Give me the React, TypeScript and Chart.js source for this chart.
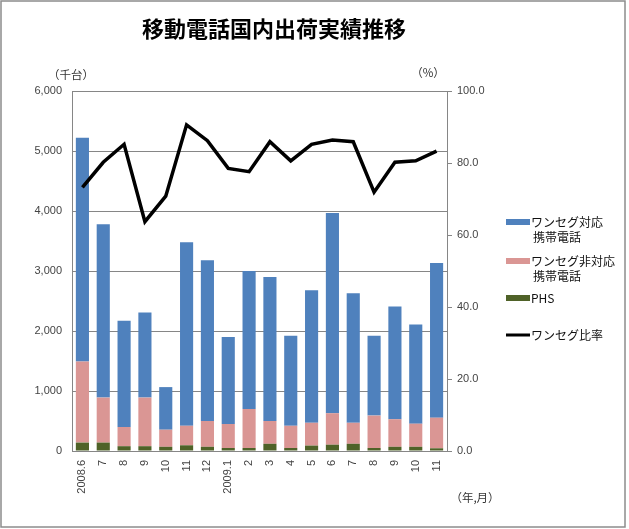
import React, { useEffect, useRef } from "react";
import { Chart, registerables } from "chart.js";

Chart.register(...registerables);

const title = "移動電話国内出荷実績推移";
const categories = ["2008.6", "7", "8", "9", "10", "11", "12", "2009.1", "2", "3", "4", "5", "6", "7", "8", "9", "10", "11"];
const phs = [140, 140, 80, 80, 70, 95, 70, 50, 50, 120, 50, 90, 105, 120, 50, 70, 70, 45];
const nonOneSeg = [1350, 750, 320, 810, 285, 325, 430, 400, 650, 380, 370, 380, 525, 350, 540, 460, 385, 510];
const oneSeg = [3730, 2890, 1770, 1420, 710, 3060, 2680, 1450, 2300, 2400, 1500, 2210, 3335, 2160, 1330, 1880, 1655, 2580];
const ratio = [73.2, 80.2, 85.2, 63.7, 70.8, 90.6, 86.2, 78.5, 77.6, 85.9, 80.6, 85.2, 86.4, 85.9, 71.9, 80.2, 80.6, 83.3];
const leftTicks = { min: 0, max: 6000, step: 1000 };
const rightTicks = { min: 0, max: 100, step: 20 };
const leftUnit = "（千台）";
const rightUnit = "（%）";
const xUnit = "（年,月）";

const BLUE = "#4F81BD";
const PINK = "#DA9694";
const GREEN = "#4F6228";
const GRID = "#868686";
const TXT = "#444444";
const FONT = "'Liberation Sans', Arial, 'Noto Sans CJK JP', sans-serif";
const CJK = "'Noto Sans CJK JP', 'Liberation Sans', sans-serif";

const decor = {
  id: "decor",
  beforeDraw(chart: any) {
    const ctx = chart.ctx;
    ctx.save();
    ctx.fillStyle = "#ffffff";
    ctx.fillRect(0, 0, chart.width, chart.height);
    ctx.restore();
  },
  afterDraw(chart: any) {
    const ctx = chart.ctx;
    const area = chart.chartArea;
    ctx.save();
    // border
    ctx.strokeStyle = "#8c8c8c";
    ctx.lineWidth = 1.5;
    ctx.strokeRect(1, 1, 624, 526);
    // title
    ctx.fillStyle = "#000";
    ctx.font = "bold 22px " + CJK;
    ctx.textAlign = "center";
    ctx.textBaseline = "middle";
    ctx.fillText(title, 274, 29);
    // units
    ctx.font = "11.5px " + CJK;
    ctx.fillStyle = "#333";
    ctx.fillText(leftUnit, 71, 75);
    ctx.fillText(rightUnit, 428, 73);
    ctx.fillText(xUnit, 475, 498);
    // legend
    ctx.textAlign = "left";
    ctx.font = "12px " + CJK;
    const items = [
      { color: BLUE, lines: ["ワンセグ対応", "携帯電話"], y: 222, type: "box" },
      { color: PINK, lines: ["ワンセグ非対応", "携帯電話"], y: 261, type: "box" },
      { color: GREEN, lines: ["PHS"], y: 298, type: "box" },
      { color: "#000", lines: ["ワンセグ比率"], y: 335, type: "line" },
    ];
    for (const it of items) {
      if (it.type === "box") {
        ctx.fillStyle = it.color;
        ctx.fillRect(506, it.y - 3, 24, 6);
      } else {
        ctx.strokeStyle = it.color;
        ctx.lineWidth = 3;
        ctx.beginPath();
        ctx.moveTo(506, it.y);
        ctx.lineTo(530, it.y);
        ctx.stroke();
      }
      ctx.fillStyle = "#111";
      it.lines.forEach((l, i) => {
        ctx.fillText(l, i === 0 ? 531 : 533, it.y + i * 15.5);
      });
    }
    ctx.restore();
  },
};

export default function App() {
  const ref = useRef<HTMLCanvasElement>(null);
  useEffect(() => {
    const chart = new Chart(ref.current!, {
      type: "bar",
      data: {
        labels: categories,
        datasets: [
          {
            type: "line",
            label: "ワンセグ比率",
            data: ratio,
            yAxisID: "y1",
            borderColor: "#000",
            borderWidth: 3.5,
            pointRadius: 0,
            tension: 0,
            order: 0,
          } as any,
          { label: "PHS", data: phs, backgroundColor: GREEN, yAxisID: "y", stack: "s", order: 1 },
          { label: "ワンセグ非対応携帯電話", data: nonOneSeg, backgroundColor: PINK, yAxisID: "y", stack: "s", order: 1 },
          { label: "ワンセグ対応携帯電話", data: oneSeg, backgroundColor: BLUE, yAxisID: "y", stack: "s", order: 1 },
        ],
      },
      options: {
        responsive: false,
        animation: false,
        devicePixelRatio: 1,
        layout: { padding: { top: 91, left: 0, right: 0, bottom: 0 } },
        plugins: { legend: { display: false }, tooltip: { enabled: false }, title: { display: false } },
        datasets: { bar: { barPercentage: 0.63, categoryPercentage: 1 } },
        scales: {
          x: {
            stacked: true,
            grid: { display: false, drawTicks: false },
            border: { display: true, color: GRID, width: 1 },
            ticks: { minRotation: 90, maxRotation: 90, padding: 9, color: TXT, font: { family: FONT, size: 11 }, autoSkip: false },
            afterFit: (s: any) => { s.height = 78; },
          },
          y: {
            stacked: true,
            position: "left",
            min: leftTicks.min,
            max: leftTicks.max,
            grid: { color: GRID, drawTicks: false, lineWidth: 1 },
            border: { display: true, color: GRID },
            ticks: {
              stepSize: leftTicks.step,
              padding: 10,
              color: TXT,
              font: { family: FONT, size: 11 },
              callback: (v: any) => Number(v).toLocaleString("en-US"),
            },
            afterFit: (s: any) => { s.width = 72; },
          },
          y1: {
            position: "right",
            min: rightTicks.min,
            max: rightTicks.max,
            grid: { drawOnChartArea: false, color: GRID, tickLength: 5 },
            border: { display: true, color: GRID },
            ticks: {
              stepSize: rightTicks.step,
              padding: 5,
              color: TXT,
              font: { family: FONT, size: 11 },
              callback: (v: any) => Number(v).toFixed(1),
            },
            afterFit: (s: any) => { s.width = 182; },
          },
        },
      },
      plugins: [decor],
    });
    return () => chart.destroy();
  }, []);
  return (
    <div style={{ position: "fixed", left: 0, top: 0, width: 629, height: 529 }}>
      <canvas ref={ref} width={629} height={529} style={{ width: 629, height: 529, display: "block" }} />
    </div>
  );
}
